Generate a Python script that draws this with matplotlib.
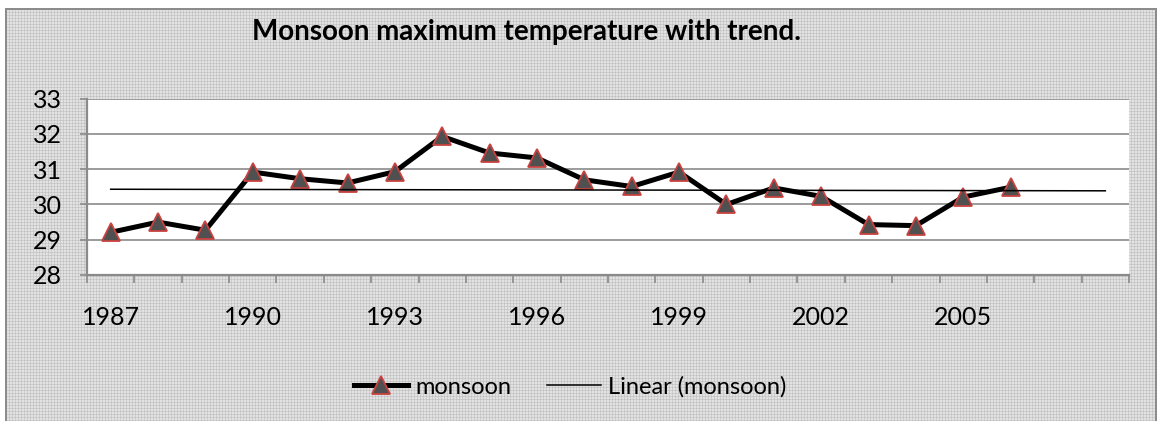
import numpy as np
import matplotlib
matplotlib.use('Agg')
import matplotlib.pyplot as plt

# data
years = list(range(1987, 2007))
monsoon = [29.21, 29.50, 29.27, 30.92, 30.73, 30.61, 30.93, 31.93, 31.46, 31.32,
           30.70, 30.51, 30.92, 30.00, 30.47, 30.23, 29.43, 29.40, 30.21, 30.49]
forecast_periods = 2
label_years = [1987, 1990, 1993, 1996, 1999, 2002, 2005]
y_ticks = [28, 29, 30, 31, 32, 33]

plt.rcParams['font.family'] = ['Lato', 'DejaVu Sans']

W, H = 1159, 421
fig = plt.figure(figsize=(W / 100, H / 100), dpi=100)

# textured grey background like the excel chart area
tex = np.full((H, W), 0.89)
tex[::3, :] = 0.81
tex[:, ::3] = 0.81
tex[::3, ::3] = 0.75
tex[H - 9:, :] = 1.0     # white strip above the border (image rows flipped)
tex[:, :5] = 1.0
tex[H - 10:H - 8, 5:1157] = 0.55
tex[:H - 8, 5:7] = 0.55
tex[:H - 8, 1155:1157] = 0.55
tex[:, 1157:] = 1.0
fig.figimage(np.dstack([tex] * 3), xo=0, yo=0, origin='lower', zorder=-10)

ax = fig.add_axes([87 / W, 1 - 275 / H, (1129 - 87) / W, (275 - 98.7) / H])
ax.set_facecolor('white')

x = np.arange(1, len(years) + 1)
coef = np.polyfit(x, monsoon, 1)
xt = np.arange(1, len(years) + forecast_periods + 1)
trend = np.polyval(coef, xt)

grid_c = '#8a8a8a'
for v in y_ticks:
    ax.axhline(v, color=grid_c, lw=1.2, zorder=1)

ax.plot(x, monsoon, color='black', lw=3.6, marker='^', markersize=13,
        markerfacecolor='#505050', markeredgecolor='#c8423f', markeredgewidth=1.3,
        label='monsoon', zorder=3)
ax.plot(xt, trend, color='black', lw=1.1, label='Linear (monsoon)', zorder=4)

ax.set_xlim(0.5, len(xt) + 0.5)
ax.set_ylim(28, 33)

for s in ['top', 'right']:
    ax.spines[s].set_visible(False)
for s in ['left', 'bottom']:
    ax.spines[s].set_color(grid_c)
    ax.spines[s].set_linewidth(1.6)

ax.set_yticks(y_ticks)
ax.set_yticklabels([str(v) for v in y_ticks])
ax.tick_params(axis='y', length=5, width=1.2, color=grid_c, pad=13, labelsize=18)

ax.set_xticks(np.arange(0.5, len(xt) + 1, 1.0))
ax.set_xticklabels([])
ax.tick_params(axis='x', which='major', length=5.5, width=1.2, color=grid_c)
ax.set_xticks([y - years[0] + 1 for y in label_years], minor=True)
ax.set_xticklabels([str(y) for y in label_years], minor=True)
ax.tick_params(axis='x', which='minor', length=0, pad=22, labelsize=18)

fig.text(527 / W, 1 - 32 / H, 'Monsoon maximum temperature with trend.',
         ha='center', va='center', fontsize=20, fontweight='bold')

fig.legend(loc='center', bbox_to_anchor=(570 / W, 1 - 387 / H), ncol=2,
           frameon=False, fontsize=17, handlelength=2.3, columnspacing=1.5,
           handletextpad=0.3)

fig.savefig('out.png', dpi=100)
